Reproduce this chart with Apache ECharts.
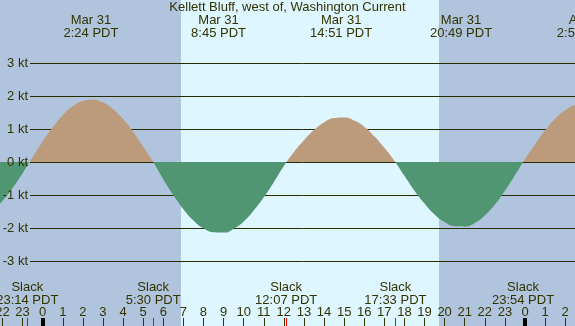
<!DOCTYPE html>
<html>
<head>
<meta charset="utf-8">
<script src="https://cdn.jsdelivr.net/npm/echarts@6/dist/echarts.min.js"></script>
<style>
  html, body { margin: 0; padding: 0; background: #b0c4de; }
  #chart { width: 575px; height: 326px; }
</style>
</head>
<body>
<div id="chart"></div>
<script>
// hours relative to Mar 31 00:00 PDT (negative = Mar 30, >24 = Apr 1)
const hours = [
  -3, -2.5, -2, -1.5, -1, -0.5, 0, 0.5, 1, 1.5, 2, 2.5, 3, 3.5, 4, 4.5, 5, 5.5,
  6, 6.5, 7, 7.5, 8, 8.5, 9, 9.5, 10, 10.5, 11, 11.5, 12, 12.5, 13, 13.5, 14, 14.5,
  15, 15.5, 16, 16.5, 17, 17.5, 18, 18.5, 19, 19.5, 20, 20.5, 21, 21.5, 22, 22.5,
  23, 23.5, 24, 24.5, 25, 25.5, 26, 26.5, 27
]
// current speed, knots (flood +, ebb -)
const speed = [
  -1.66, -1.48, -1.18, -0.79, -0.34, 0.15, 0.62, 1.05, 1.42, 1.69, 1.85, 1.89, 1.80, 1.60, 1.30, 0.92, 0.47, 0,
  -0.52, -1.00, -1.43, -1.77, -2.01, -2.13, -2.14, -2.02, -1.80, -1.47, -1.07, -0.61, -0.12, 0.30, 0.66, 0.97, 1.20, 1.33,
  1.35, 1.26, 1.07, 0.78, 0.43, 0.04, -0.42, -0.87, -1.26, -1.59, -1.82, -1.95, -1.96, -1.85, -1.62, -1.29,
  -0.87, -0.40, 0.09, 0.54, 0.96, 1.31, 1.57, 1.73, 1.78
]

// max flood / ebb events (top labels)
const maxTimes = [2.4, 8.75, 14.85, 20.8167, 26.95]
const maxLabels = ['Mar 31\n2:24 PDT', 'Mar 31\n8:45 PDT', 'Mar 31\n14:51 PDT', 'Mar 31\n20:49 PDT', 'Apr 1\n2:57 PDT']

// slack water events (bottom labels, red ticks)
const slackTimes = [-0.7667, 5.5, 12.1167, 17.55, 23.9]
const slackLabels = ['Slack\n23:14 PDT', 'Slack\n5:30 PDT', 'Slack\n12:07 PDT', 'Slack\n17:33 PDT', 'Slack\n23:54 PDT']

const midnights = [0, 24]
const sunrise = 6.88
const sunset = 19.72

const NIGHT = '#b0c4de'
const DAY = '#ddf6ff'
const FLOOD = '#bb9b7b'
const EBB = '#519672'
const INK = '#333300'
const FONT = '"Liberation Sans", Arial, sans-serif'

function pick(times, texts, v) {
  let best = 0
  for (let i = 1; i < times.length; i++) {
    if (Math.abs(times[i] - v) < Math.abs(times[best] - v)) best = i
  }
  return texts[best]
}

// split colour at zero inside the area's own bounding box
const vMax = Math.max(0, ...speed)
const vMin = Math.min(0, ...speed)
const zeroAt = vMax / (vMax - vMin)

const chart = echarts.init(document.getElementById('chart'))

const baseX = {
  gridIndex: 0,
  type: 'value',
  min: -3,
  max: 27,
  splitLine: { show: false },
  axisLine: { show: false, onZero: false }
}

const baseY = {
  gridIndex: 1,
  type: 'value',
  position: 'left',
  min: -3,
  max: 3,
  interval: 1,
  axisLine: { show: false, onZero: false },
  axisTick: { show: false }
}

const option = {
  backgroundColor: NIGHT,
  animation: false,
  textStyle: { fontFamily: FONT, fontSize: 13, color: INK },
  title: {
    text: 'Kellett Bluff, west of, Washington Current',
    left: 'center',
    top: 0,
    padding: 0,
    textStyle: { fontFamily: FONT, fontSize: 13, fontWeight: 'normal', color: INK, lineHeight: 14 }
  },
  grid: [
    { left: -17.6, right: -10.3, top: 0, bottom: 0, containLabel: false, outerBoundsMode: 'none' },
    { left: 30, right: 0, top: 63, bottom: 65, containLabel: false, outerBoundsMode: 'none' }
  ],
  xAxis: [
    // hour ticks
    Object.assign({}, baseX, {
      position: 'bottom',
      interval: 1,
      z: 4,
      axisTick: { inside: true, length: 8, lineStyle: { color: INK, width: 1 } },
      axisLabel: {
        inside: true, margin: 7, color: INK, fontFamily: FONT, fontSize: 13,
        formatter: v => String(((v % 24) + 24) % 24)
      }
    }),
    // slack ticks + labels
    Object.assign({}, baseX, {
      position: 'bottom',
      z: 5,
      axisTick: { inside: true, length: 8, customValues: slackTimes, lineStyle: { color: '#ff0000', width: 1 } },
      axisLabel: {
        inside: true, margin: 19, customValues: slackTimes, color: INK, fontFamily: FONT, fontSize: 13,
        lineHeight: 13, formatter: v => pick(slackTimes, slackLabels, v)
      }
    }),
    // midnight markers
    Object.assign({}, baseX, {
      position: 'bottom',
      z: 6,
      axisTick: { inside: true, length: 8, customValues: midnights, lineStyle: { color: '#000000', width: 4 } },
      axisLabel: { show: false }
    }),
    // max current labels
    Object.assign({}, baseX, {
      position: 'top',
      z: 4,
      axisTick: { show: false },
      axisLabel: {
        inside: true, margin: 14, customValues: maxTimes, color: INK, fontFamily: FONT, fontSize: 13,
        lineHeight: 13, formatter: v => pick(maxTimes, maxLabels, v)
      }
    }),
    { gridIndex: 1, type: 'value', min: -3, max: 27, show: false }
  ],
  yAxis: [
    { gridIndex: 0, type: 'value', min: -164 / 33, max: 162 / 33, show: false },
    // grid lines, under the fill
    Object.assign({}, baseY, {
      z: 2,
      splitLine: { lineStyle: { color: '#2b2b00', width: 1 } },
      axisLabel: { show: false }
    }),
    // kt labels, over the fill
    Object.assign({}, baseY, {
      z: 6,
      splitLine: { show: false },
      axisLabel: { margin: 2, color: INK, fontFamily: FONT, fontSize: 13, formatter: '{value} kt' }
    })
  ],
  series: [
    {
      // daylight band
      type: 'line',
      xAxisIndex: 0,
      yAxisIndex: 0,
      z: 1,
      silent: true,
      symbol: 'none',
      lineStyle: { width: 0 },
      data: [[sunrise, 0], [sunset, 0]],
      markArea: {
        silent: true,
        itemStyle: { color: DAY },
        data: [[{ xAxis: sunrise }, { xAxis: sunset }]]
      }
    },
    {
      name: 'Current',
      type: 'line',
      xAxisIndex: 0,
      yAxisIndex: 0,
      z: 3,
      smooth: true,
      symbol: 'none',
      lineStyle: { width: 0 },
      areaStyle: {
        opacity: 1,
        color: {
          type: 'linear', x: 0, y: 0, x2: 0, y2: 1,
          colorStops: [
            { offset: 0, color: FLOOD },
            { offset: zeroAt, color: FLOOD },
            { offset: zeroAt, color: EBB },
            { offset: 1, color: EBB }
          ]
        }
      },
      data: hours.map((h, i) => [h, speed[i]])
    }
  ]
}

chart.setOption(option)
</script>
</body>
</html>
